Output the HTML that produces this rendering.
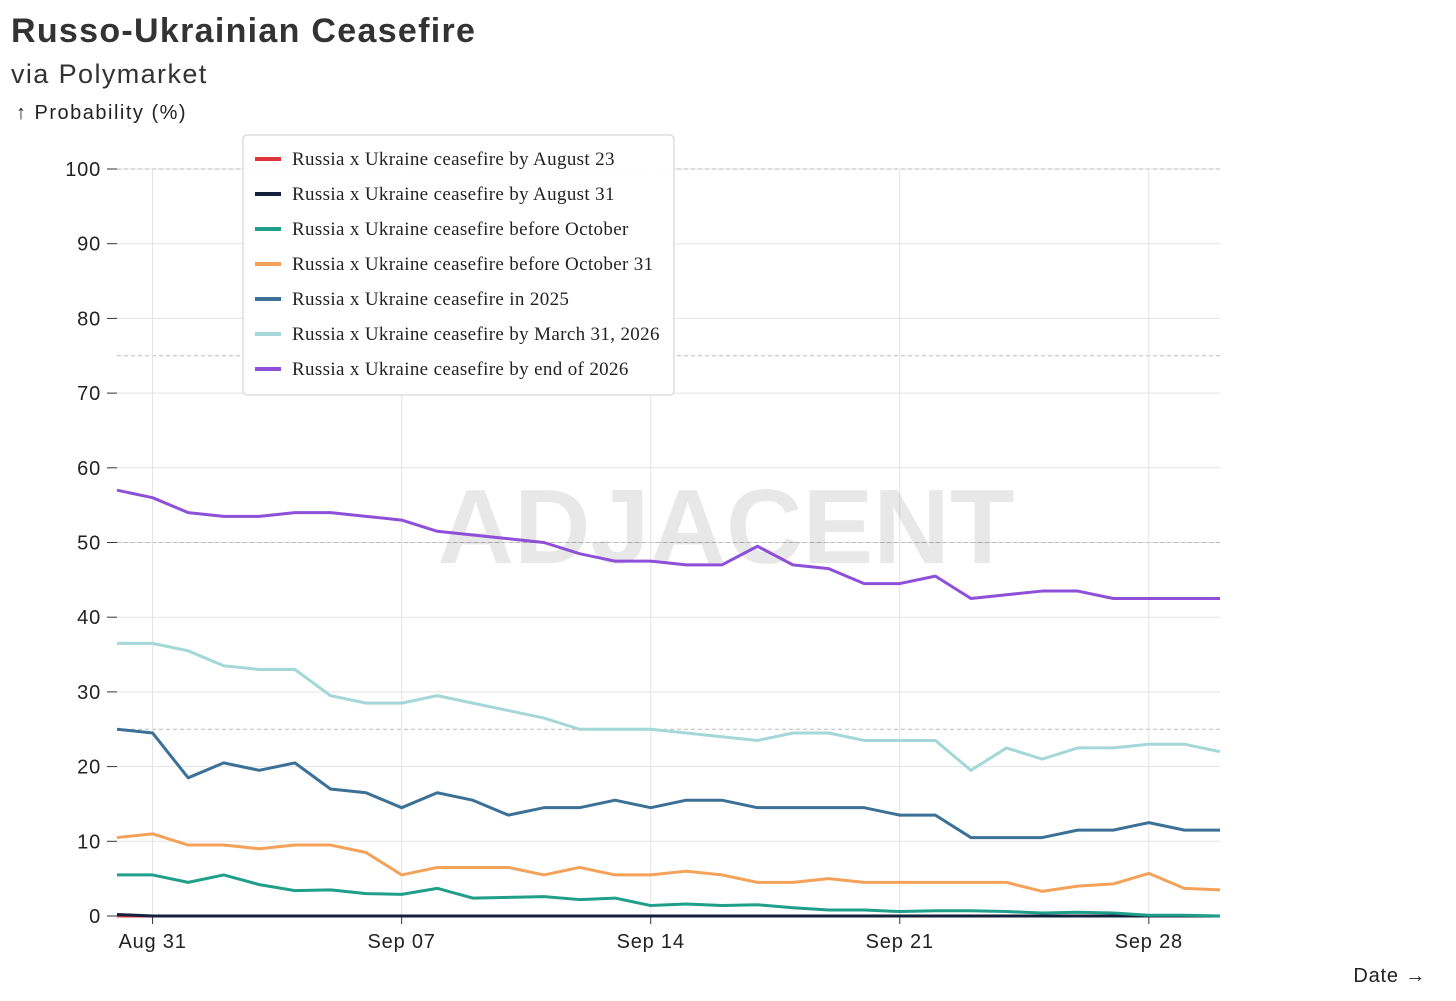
<!DOCTYPE html>
<html><head><meta charset="utf-8">
<style>
body{margin:0;background:#fff;width:1456px;height:1001px;overflow:hidden;font-family:"Liberation Sans",sans-serif;}
svg{position:absolute;left:0;top:0}
</style></head>
<body>
<svg id="chart" width="1456" height="1001"></svg>
<script>
const dates=["Aug 30","Aug 31","Sep 01","Sep 02","Sep 03","Sep 04","Sep 05","Sep 06","Sep 07","Sep 08","Sep 09","Sep 10","Sep 11","Sep 12","Sep 13","Sep 14","Sep 15","Sep 16","Sep 17","Sep 18","Sep 19","Sep 20","Sep 21","Sep 22","Sep 23","Sep 24","Sep 25","Sep 26","Sep 27","Sep 28","Sep 29","Sep 30"];
const xTickLabels=["Aug 31","Sep 07","Sep 14","Sep 21","Sep 28"];
const xTickIdx=[1,8,15,22,29];
const yTicks=[0,10,20,30,40,50,60,70,80,90,100];
const dashedY=[25,50,75,100];
const sAug23=[0,0,0,0,0,0,0,0,0,0,0,0,0,0,0,0,0,0,0,0,0,0,0,0,0,0,0,0,0,0,0,0];
const sAug31=[0.2,0,0,0,0,0,0,0,0,0,0,0,0,0,0,0,0,0,0,0,0,0,0,0,0,0,0,0,0,0,0,0];
const sOct=[5.5,5.5,4.5,5.5,4.2,3.4,3.5,3,2.9,3.7,2.4,2.5,2.6,2.2,2.4,1.4,1.6,1.4,1.5,1.1,0.8,0.8,0.6,0.7,0.7,0.6,0.4,0.5,0.4,0.1,0.1,0];
const sOct31=[10.5,11,9.5,9.5,9,9.5,9.5,8.5,5.5,6.5,6.5,6.5,5.5,6.5,5.5,5.5,6,5.5,4.5,4.5,5,4.5,4.5,4.5,4.5,4.5,3.3,4,4.3,5.7,3.7,3.5];
const s2025=[25,24.5,18.5,20.5,19.5,20.5,17,16.5,14.5,16.5,15.5,13.5,14.5,14.5,15.5,14.5,15.5,15.5,14.5,14.5,14.5,14.5,13.5,13.5,10.5,10.5,10.5,11.5,11.5,12.5,11.5,11.5];
const sMar26=[36.5,36.5,35.5,33.5,33,33,29.5,28.5,28.5,29.5,28.5,27.5,26.5,25,25,25,24.5,24,23.5,24.5,24.5,23.5,23.5,23.5,19.5,22.5,21,22.5,22.5,23,23,22];
const sEnd26=[57,56,54,53.5,53.5,54,54,53.5,53,51.5,51,50.5,50,48.5,47.5,47.5,47,47,49.5,47,46.5,44.5,44.5,45.5,42.5,43,43.5,43.5,42.5,42.5,42.5,42.5];
const seriesNames=["Russia x Ukraine ceasefire by August 23","Russia x Ukraine ceasefire by August 31","Russia x Ukraine ceasefire before October","Russia x Ukraine ceasefire before October 31","Russia x Ukraine ceasefire in 2025","Russia x Ukraine ceasefire by March 31, 2026","Russia x Ukraine ceasefire by end of 2026"];
const seriesData=[sAug23,sAug31,sOct,sOct31,s2025,sMar26,sEnd26];
const colors=["#e0343c","#14213d","#1f9e89","#f4a259","#3b7097","#a4d8d8","#8e4fd9"];

const NS="http://www.w3.org/2000/svg";
const svg=document.getElementById('chart');
const X0=117,X1=1220,Y0=916,Y1=169;
const x=i=>X0+(X1-X0)*i/(dates.length-1);
const y=v=>Y0-(Y0-Y1)*v/100;
function el(t,a,p){const e=document.createElementNS(NS,t);for(const k in a)e.setAttribute(k,a[k]);(p||svg).appendChild(e);return e;}
function txt(s,a,p){const e=el('text',a,p);e.textContent=s;return e;}

let t;
t=txt("Russo-Ukrainian Ceasefire",{x:11,y:42,'font-size':34,'font-weight':'bold',fill:'#333','letter-spacing':1.3});

t=txt("via Polymarket",{x:11,y:83,'font-size':27,fill:'#333','letter-spacing':1.4});

t=txt("↑ Probability (%)",{x:16,y:119,'font-size':20,fill:'#222','letter-spacing':1.5});

t=txt("Date →",{x:1426,y:982,'font-size':20,fill:'#222','text-anchor':'end','letter-spacing':0.8});


yTicks.forEach(v=>{
  const g=el('line',{x1:X0,x2:X1,y1:y(v),y2:y(v),stroke:'#e3e3e3','stroke-width':1});
  
  el('line',{x1:107,x2:117,y1:y(v),y2:y(v),stroke:'#333'});
  const l=txt(String(v),{x:101,y:y(v)+7,'font-size':20,fill:'#222','text-anchor':'end','letter-spacing':0.8});
  
});
dashedY.forEach(v=>{
  const g=el('line',{x1:X0,x2:X1,y1:y(v),y2:y(v),stroke:'#bbb','stroke-dasharray':'4,3'});
  
});
xTickIdx.forEach((i,k)=>{
  const g=el('line',{x1:x(i),x2:x(i),y1:Y1,y2:Y0,stroke:'#e3e3e3'});
  
  el('line',{x1:x(i),x2:x(i),y1:Y0,y2:Y0+8,stroke:'#333'});
  const l=txt(xTickLabels[k],{x:x(i),y:948,'font-size':20,fill:'#222','text-anchor':'middle','letter-spacing':0.8});
  
});
t=txt("ADJACENT",{x:726,y:563,'font-size':106,'font-weight':'bold',fill:'#000','fill-opacity':0.09,'text-anchor':'middle'});


seriesData.forEach((d,s)=>{
  const p=el('path',{d:d.map((v,i)=>(i?'L':'M')+x(i)+','+y(v)).join(''),fill:'none',stroke:colors[s],'stroke-width':3,'stroke-linejoin':'round'});
  
});

const lg=el('g',{});

el('rect',{x:243,y:135,width:431,height:260,rx:4,fill:'#fff','fill-opacity':0.95,stroke:'#ccc'},lg);
seriesNames.forEach((n,s)=>{
  const gy=159+s*35;
  const e=el('g',{},lg);
  
  el('line',{x1:255,x2:281,y1:gy,y2:gy,stroke:colors[s],'stroke-width':4},e);
  txt(n,{x:292,y:gy+6,'font-size':19,'letter-spacing':0.35,fill:'#222','font-family':'"Liberation Serif",serif'},e);
});
</script>
</body></html>
